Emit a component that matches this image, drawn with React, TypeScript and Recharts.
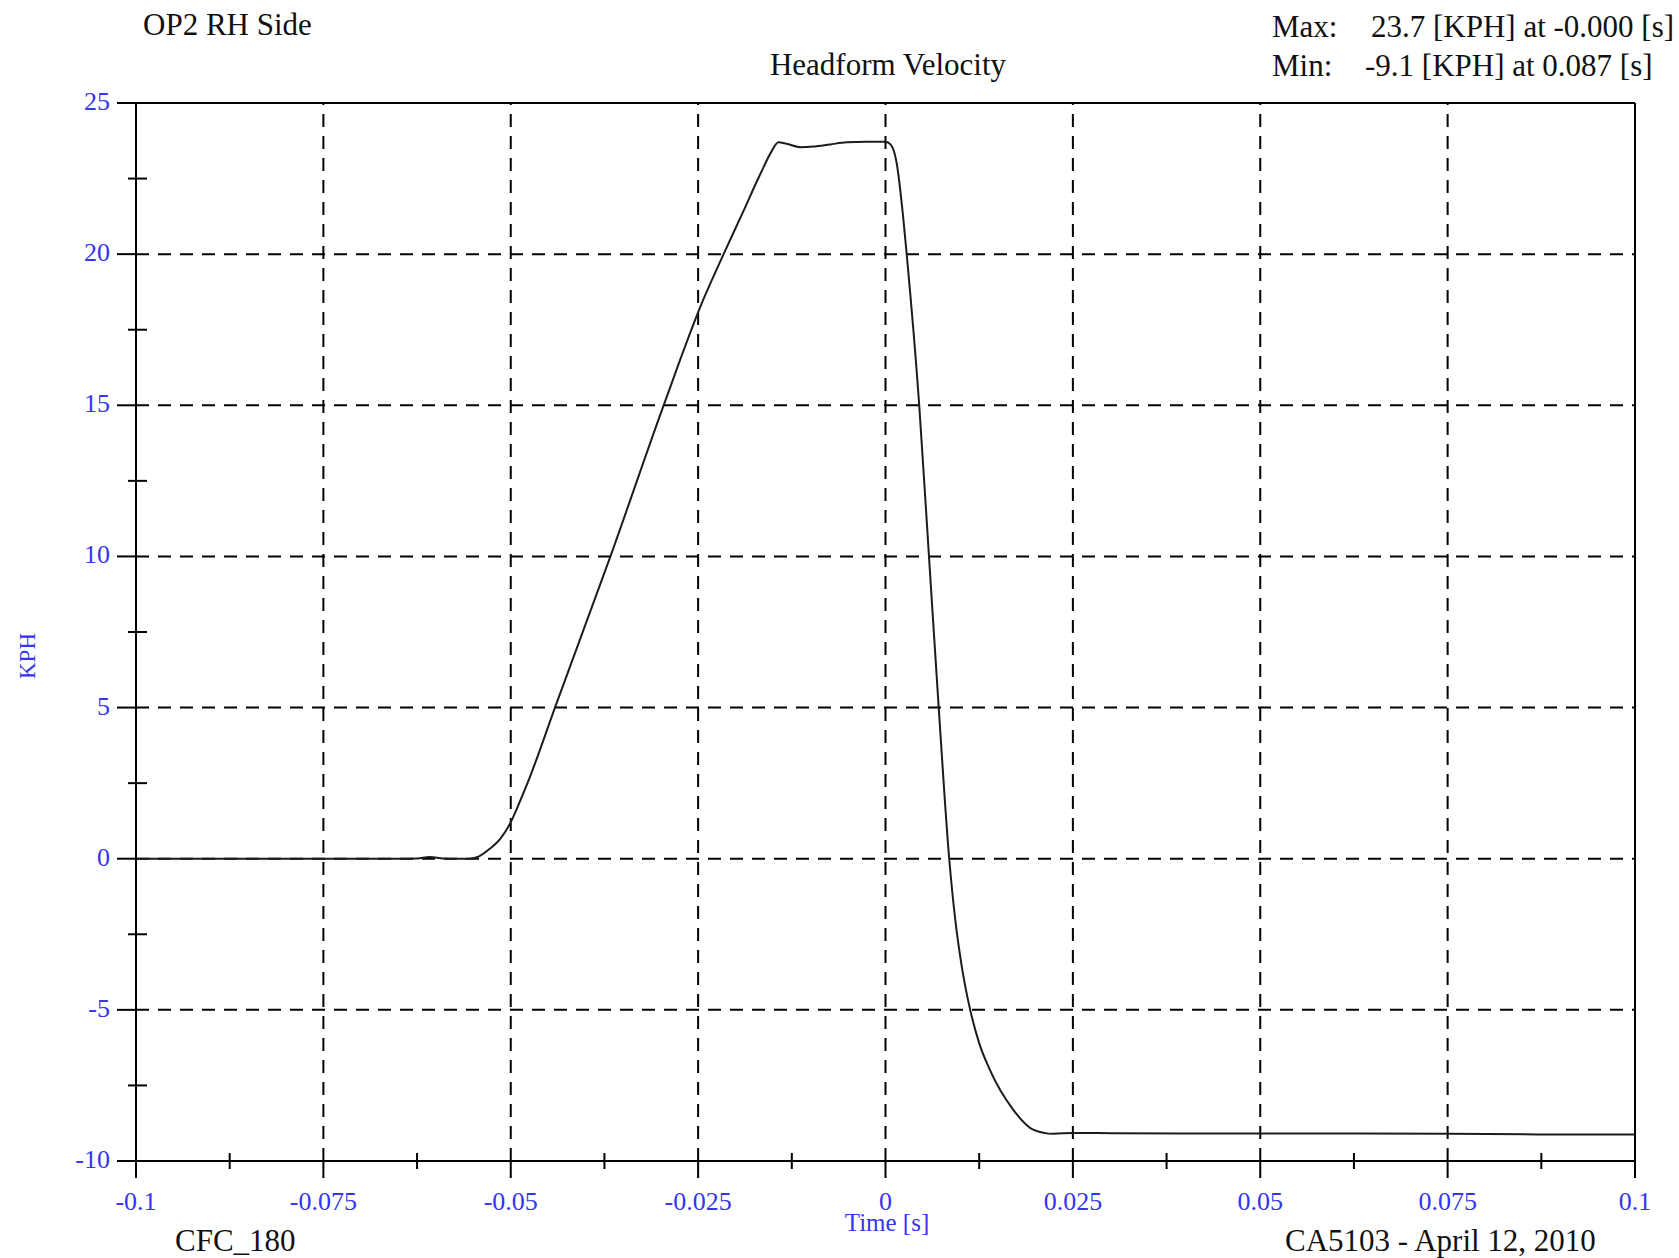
import React from 'react';
import { LineChart, Line, XAxis, YAxis, ReferenceLine } from 'recharts';

// time [s] and headform velocity [KPH]
const TIME = [
  -0.1, -0.08, -0.065, -0.0625, -0.0608, -0.059, -0.057, -0.0555, -0.0545, -0.0528, -0.0514,
  -0.0501, -0.0488, -0.0477, -0.0441, -0.0367, -0.0296, -0.0243, -0.0216, -0.019, -0.0167,
  -0.0152, -0.0143, -0.0132, -0.0114, -0.0096, -0.0074, -0.0052, -0.0025, 0, 0.0007, 0.0015,
  0.0022, 0.0028, 0.0045, 0.0058, 0.0071, 0.0085, 0.0093, 0.0102, 0.0113, 0.0125, 0.0139,
  0.017, 0.0197, 0.0224, 0.0251, 0.0304, 0.05, 0.075, 0.087, 0.1,
];
const KPH = [
  0, 0, 0, 0.01, 0.06, 0.01, 0, 0, 0.05, 0.33, 0.66,
  1.16, 1.88, 2.54, 5, 10, 15, 18.5, 20, 21.4, 22.65,
  23.4, 23.7, 23.65, 23.54, 23.56, 23.63, 23.7, 23.72, 23.72, 23.62, 23.0,
  21.6, 20.07, 15, 10, 5, 0, -2.0, -3.6, -5.0, -6.1, -6.97,
  -8.29, -8.96, -9.1, -9.07, -9.08, -9.09, -9.1, -9.12, -9.12,
];

const X_MAJOR = [-0.1, -0.075, -0.05, -0.025, 0, 0.025, 0.05, 0.075, 0.1];
const X_MINOR = [-0.0875, -0.0625, -0.0375, -0.0125, 0.0125, 0.0375, 0.0625, 0.0875];
const Y_MAJOR = [-10, -5, 0, 5, 10, 15, 20, 25];
const Y_MINOR = [-7.5, -2.5, 2.5, 7.5, 12.5, 17.5, 22.5];

const data = TIME.map((t, i) => ({ t, v: KPH[i] }));

const W = 1679;
const H = 1258;
const LEFT = 136;
const TOP = 103;
const RIGHT = 1635;
const BOTTOM = 1161;

const BLUE = '#3434f2';
const FONT = '"Liberation Serif", "Times New Roman", serif';

function XTick(props: any) {
  const { x, payload } = props;
  const y = BOTTOM;
  if (!X_MAJOR.includes(payload.value)) {
    return <line x1={x} x2={x} y1={y - 8} y2={y + 8} stroke="#000" strokeWidth={2} />;
  }
  return (
    <g>
      <line x1={x} x2={x} y1={y} y2={y + 17} stroke="#000" strokeWidth={2} />
      <text x={x} y={y + 49} textAnchor="middle" fill={BLUE} fontSize={26} fontFamily={FONT}>
        {String(payload.value)}
      </text>
    </g>
  );
}

function YTick(props: any) {
  const { y, payload } = props;
  const x = LEFT;
  if (!Y_MAJOR.includes(payload.value)) {
    return <line x1={x - 8} x2={x + 11} y1={y} y2={y} stroke="#000" strokeWidth={2} />;
  }
  return (
    <g>
      <line x1={x - 19} x2={x} y1={y} y2={y} stroke="#000" strokeWidth={2} />
      <text x={x - 26} y={y + 7} textAnchor="end" fill={BLUE} fontSize={26} fontFamily={FONT}>
        {String(payload.value)}
      </text>
    </g>
  );
}

const xTicks = [...X_MAJOR, ...X_MINOR].sort((a, b) => a - b);
const yTicks = [...Y_MAJOR, ...Y_MINOR].sort((a, b) => a - b);
const dash = '13 9';

export default function App() {
  return (
    <div style={{ position: 'absolute', left: 0, top: 0, width: W, height: H, background: '#fff' }}>
      <LineChart
        width={W}
        height={H}
        data={data}
        margin={{ top: TOP, right: W - RIGHT, bottom: H - BOTTOM - 40, left: LEFT - 60 }}
      >
        {Y_MAJOR.slice(1, -1).map((v) => (
          <ReferenceLine key={`gy${v}`} y={v} stroke="#000" strokeWidth={2} strokeDasharray={dash} />
        ))}
        {X_MAJOR.slice(1, -1).map((v) => (
          <ReferenceLine key={`gx${v}`} x={v} stroke="#000" strokeWidth={2} strokeDasharray={dash} />
        ))}
        <ReferenceLine y={25} stroke="#000" strokeWidth={2} />
        <ReferenceLine x={0.1} stroke="#000" strokeWidth={2} />
        <XAxis
          dataKey="t"
          type="number"
          domain={[-0.1, 0.1]}
          ticks={xTicks}
          interval={0}
          height={40}
          tickSize={0}
          tickMargin={0}
          tickLine={false}
          axisLine={{ stroke: '#000', strokeWidth: 2 }}
          tick={<XTick />}
          allowDataOverflow
        />
        <YAxis
          type="number"
          domain={[-10, 25]}
          ticks={yTicks}
          interval={0}
          width={60}
          tickSize={0}
          tickMargin={0}
          tickLine={false}
          axisLine={{ stroke: '#000', strokeWidth: 2 }}
          tick={<YTick />}
          allowDataOverflow
        />
        <Line
          dataKey="v"
          type="monotone"
          stroke="#1c1c1c"
          strokeWidth={2}
          dot={false}
          activeDot={false}
          isAnimationActive={false}
        />
      </LineChart>
      <svg
        width={W}
        height={H}
        style={{ position: 'absolute', left: 0, top: 0, pointerEvents: 'none' }}
        fontFamily={FONT}
      >
        <text x={143} y={35} fontSize={31} fill="#111">OP2 RH Side</text>
        <text x={888} y={75} fontSize={31} fill="#111" textAnchor="middle">Headform Velocity</text>
        <text x={1272} y={37} fontSize={31} fill="#111">Max:</text>
        <text x={1371} y={37} fontSize={31} fill="#111">23.7 [KPH] at -0.000 [s]</text>
        <text x={1272} y={76} fontSize={31} fill="#111">Min:</text>
        <text x={1365} y={76} fontSize={31} fill="#111">-9.1 [KPH] at 0.087 [s]</text>
        <text x={175} y={1251} fontSize={31} fill="#111">CFC_180</text>
        <text x={1285} y={1251} fontSize={31} fill="#111">CA5103 - April 12, 2010</text>
        <text x={887} y={1231} fontSize={25} fill={BLUE} textAnchor="middle">Time [s]</text>
        <text
          x={35}
          y={656}
          fontSize={23}
          fill={BLUE}
          textAnchor="middle"
          transform="rotate(-90 35 656)"
        >
          KPH
        </text>
      </svg>
    </div>
  );
}
